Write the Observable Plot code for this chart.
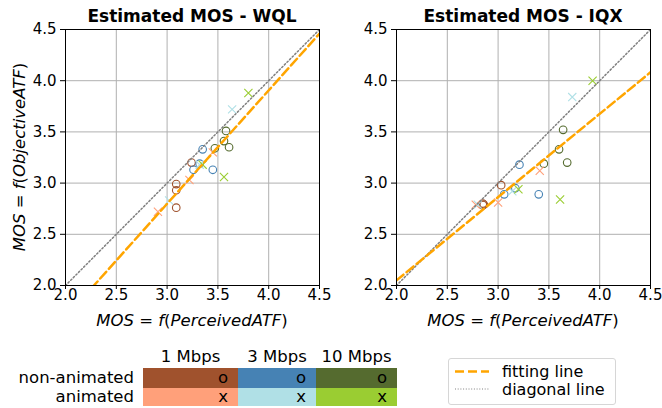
<!DOCTYPE html>
<html>
<head>
<meta charset="utf-8">
<script src="https://cdn.jsdelivr.net/npm/d3@7"></script>
<script src="https://cdn.jsdelivr.net/npm/@observablehq/plot@0.6"></script>
<style>
  body { margin: 0; background: #fff; }
  #wrap { position: relative; width: 662px; height: 408px; font-family: "DejaVu Sans", sans-serif; color: #000; overflow: hidden; }
  .abs { position: absolute; }
</style>
</head>
<body>
<div id="wrap"></div>
<script>
// ---- data ----
const bitrates = ["1 Mbps", "3 Mbps", "10 Mbps"];
const types = ["non-animated", "animated"];
const markers = ["o", "x"];
const colorsNonAnimated = ["#A0522D", "#4682B4", "#556B2F"];
const colorsAnimated = ["#FFA07A", "#B0E0E6", "#9ACD32"];
const axisTicks = [2.0, 2.5, 3.0, 3.5, 4.0, 4.5];
const panelTitles = ["Estimated MOS - WQL", "Estimated MOS - IQX"];

// WQL panel
const wqlBitrate  = ["1 Mbps","1 Mbps","1 Mbps","1 Mbps","3 Mbps","3 Mbps","3 Mbps","3 Mbps","10 Mbps","10 Mbps","10 Mbps","10 Mbps","1 Mbps","1 Mbps","1 Mbps","3 Mbps","3 Mbps","3 Mbps","10 Mbps","10 Mbps","10 Mbps"];
const wqlType     = ["non-animated","non-animated","non-animated","non-animated","non-animated","non-animated","non-animated","non-animated","non-animated","non-animated","non-animated","non-animated","animated","animated","animated","animated","animated","animated","animated","animated","animated"];
const wqlPerceived = [3.24, 3.09, 3.09, 3.09, 3.35, 3.32, 3.26, 3.45, 3.58, 3.56, 3.61, 3.47, 3.45, 3.22, 2.91, 3.64, 3.32, 3.02, 3.80, 3.35, 3.56];
const wqlObjective = [3.20, 2.99, 2.93, 2.76, 3.33, 3.19, 3.13, 3.13, 3.51, 3.41, 3.35, 3.34, 3.30, 3.03, 2.72, 3.72, 3.18, 2.83, 3.88, 3.18, 3.06];
const wqlFit = [1.108, -0.526]; // slope, intercept

// IQX panel
const iqxBitrate  = wqlBitrate;
const iqxType     = wqlType;
const iqxPerceived = [3.03, 2.85, 2.86, 2.85, 3.21, 3.17, 3.06, 3.40, 3.64, 3.60, 3.68, 3.45, 3.41, 3.00, 2.78, 3.73, 3.14, 2.80, 3.93, 3.20, 3.61];
const iqxObjective = [2.98, 2.80, 2.79, 2.785, 3.18, 2.95, 2.89, 2.89, 3.52, 3.33, 3.20, 3.19, 3.12, 2.81, 2.79, 3.84, 2.92, 2.79, 4.00, 2.94, 2.84];
const iqxFit = [0.813, 0.424];

const legendLines = ["fitting line", "diagonal line"];

// ---- helpers ----
const groupKeys = [], groupColors = [];
types.forEach((t, ti) => bitrates.forEach((b, bi) => {
  groupKeys.push(b + "|" + t);
  groupColors.push(ti === 0 ? colorsNonAnimated[bi] : colorsAnimated[bi]);
}));

function rows(br, ty, px, py) {
  return px.map((x, i) => ({x, y: py[i], g: br[i] + "|" + ty[i], t: ty[i]}));
}
function fitRows(fit) {
  const d = [axisTicks[0], axisTicks[axisTicks.length - 1]];
  return d.map(x => ({x, y: fit[0] * x + fit[1]}));
}
const diagRows = [axisTicks[0], axisTicks[axisTicks.length - 1]].map(v => ({x: v, y: v}));

const wrap = document.getElementById("wrap");
const W = 331, H = 335, ML = 65, MR = 12, MT = 29, MB = 50;
const LABEL_FS = "16.5px";

function panel(title, data, fit, left, showYLabel) {
  const p = Plot.plot({
    width: W, height: H, marginLeft: ML, marginRight: MR, marginTop: MT, marginBottom: MB,
    style: {fontFamily: "DejaVu Sans", fontSize: "15px", background: "transparent", color: "#000", overflow: "visible"},
    x: {domain: [2, 4.5]},
    y: {domain: [2, 4.5]},
    color: {domain: groupKeys, range: groupColors},
    symbol: {domain: types, range: ["circle", "times"]},
    marks: [
      Plot.gridX(axisTicks, {stroke: "#b0b0b0", strokeOpacity: 1, strokeWidth: 1}),
      Plot.gridY(axisTicks, {stroke: "#b0b0b0", strokeOpacity: 1, strokeWidth: 1}),
      Plot.dot(data, {x: "x", y: "y", stroke: "g", symbol: "t", r: 3.8, strokeWidth: 1.1}),
      Plot.line(diagRows, {x: "x", y: "y", stroke: "#808080", strokeWidth: 1.5, strokeDasharray: "1.5,2.2", clip: true}),
      Plot.line(fitRows(fit), {x: "x", y: "y", stroke: "orange", strokeWidth: 2.5, strokeDasharray: "9,4", clip: true}),
      Plot.frame({stroke: "#000", strokeWidth: 1}),
      Plot.axisX(axisTicks, {tickFormat: d3.format(".1f"), tickSize: 4, tickPadding: 0, fontSize: 15, label: null}),
      Plot.axisY(axisTicks, {tickFormat: d3.format(".1f"), tickSize: 5, tickPadding: 4, fontSize: 15, label: null})
    ]
  });
  p.style.position = "absolute";
  p.style.left = left + "px";
  p.style.top = "0px";
  const svg = d3.select(p);
  const cx = ML + (W - ML - MR) / 2;
  svg.append("text").attr("x", cx).attr("y", 22).attr("text-anchor", "middle")
    .attr("font-weight", "bold").attr("font-size", "17px").text(title);
  const addMath = (sel, parts) => {
    parts.forEach(([s, it]) => sel.append("tspan").attr("font-style", it ? "italic" : "normal").text(s));
  };
  const xl = svg.append("text").attr("x", cx).attr("y", 326).attr("text-anchor", "middle").attr("font-size", LABEL_FS);
  addMath(xl, [["MOS", 1], [" = ", 0], ["f", 1], ["(", 0], ["PerceivedATF", 1], [")", 0]]);
  if (showYLabel) {
    const yl = svg.append("text").attr("transform", `translate(25,${MT + (H - MT - MB) / 2}) rotate(-90)`)
      .attr("text-anchor", "middle").attr("font-size", LABEL_FS);
    addMath(yl, [["MOS", 1], [" = ", 0], ["f", 1], ["(", 0], ["ObjectiveATF", 1], [")", 0]]);
  }
  wrap.appendChild(p);
}

panel(panelTitles[0], rows(wqlBitrate, wqlType, wqlPerceived, wqlObjective), wqlFit, 0, true);
panel(panelTitles[1], rows(iqxBitrate, iqxType, iqxPerceived, iqxObjective), iqxFit, 331, false);

// ---- colour/marker legend table ----
const colEdges = [143, 238, 316, 397];
const rowEdges = [368, 388, 406];
function div(style, text) {
  const d = document.createElement("div");
  d.className = "abs";
  Object.assign(d.style, style);
  if (text != null) d.textContent = text;
  wrap.appendChild(d);
  return d;
}
bitrates.forEach((b, bi) => {
  div({left: colEdges[bi] + "px", width: (colEdges[bi + 1] - colEdges[bi]) + "px", top: "347px", height: "20px",
       lineHeight: "20px", textAlign: "center", fontSize: LABEL_FS}, b);
});
types.forEach((t, ti) => {
  const top = rowEdges[ti], h = rowEdges[ti + 1] - rowEdges[ti];
  div({left: "0px", width: "134px", top: top + "px", height: h + "px", lineHeight: h + "px",
       textAlign: "right", fontSize: LABEL_FS}, t);
  bitrates.forEach((b, bi) => {
    div({left: colEdges[bi] + "px", width: (colEdges[bi + 1] - colEdges[bi] - 10) + "px", paddingRight: "10px",
         top: top + "px", height: h + "px", lineHeight: h + "px", textAlign: "right", fontSize: LABEL_FS,
         background: ti === 0 ? colorsNonAnimated[bi] : colorsAnimated[bi]}, markers[ti]);
  });
});

// ---- line legend ----
div({left: "448px", top: "358px", width: "168px", height: "47px", border: "1px solid #d6d6d6", borderRadius: "3px", background: "#fff", boxSizing: "border-box"});
const lsvg = d3.select(wrap).append("svg").attr("class", "abs").style("left", "448px").style("top", "358px")
  .attr("width", 168).attr("height", 47);
const lstyles = [{stroke: "orange", w: 2.5, dash: "9,4"}, {stroke: "#808080", w: 1, dash: "1,1.7"}];
legendLines.forEach((name, i) => {
  const y = 13.5 + i * 17.5;
  lsvg.append("line").attr("x1", 7).attr("x2", 41).attr("y1", y).attr("y2", y)
    .attr("stroke", lstyles[i].stroke).attr("stroke-width", lstyles[i].w).attr("stroke-dasharray", lstyles[i].dash);
  lsvg.append("text").attr("x", 54).attr("y", y + 5.5).attr("font-size", "16px").attr("font-family", "DejaVu Sans").text(name);
});
</script>
</body>
</html>
